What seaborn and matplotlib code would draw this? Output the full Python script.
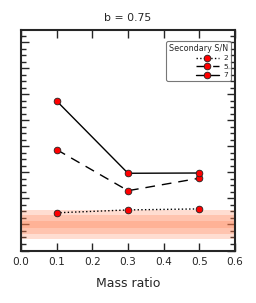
import matplotlib
matplotlib.use("Agg")
import matplotlib.pyplot as plt
import seaborn as sns
import pandas as pd
from matplotlib.ticker import MultipleLocator

mass_ratio = [0.1, 0.3, 0.5]
sn_labels = ["2", "5", "7"]
sn2 = [1.45, 1.56, 1.60]
sn5 = [3.88, 2.30, 2.78]
sn7 = [5.75, 2.97, 2.98]
band_center = 1.0
band_halfwidths = [0.55, 0.35, 0.15]

sns.set_style("ticks")
plt.rcParams['font.family'] = ['DejaVu Sans']

fig = plt.figure(figsize=(2.56, 3.03), dpi=100)
ax = fig.add_axes([21/256, 52.5/303, 214/256, 220.5/303])

for hw in band_halfwidths:
    ax.axhspan(band_center - hw, band_center + hw, color="#ff7f50", alpha=0.26, lw=0)

styles = [":", (0, (7, 5)), "-"]
for lab, vals, ls in zip(sn_labels, [sn2, sn5, sn7], styles):
    df = pd.DataFrame({"q": mass_ratio, "v": vals})
    sns.lineplot(data=df, x="q", y="v", ax=ax, color="black", lw=1.0,
                 linestyle=ls, marker="o", markersize=4.8,
                 markerfacecolor="red", markeredgecolor="#222222",
                 markeredgewidth=0.6, label=lab)

ax.set_xlim(0, 0.6)
ax.set_ylim(0, 8.48)
ax.xaxis.set_major_locator(MultipleLocator(0.1))
ax.yaxis.set_major_locator(MultipleLocator(1.0))
ax.yaxis.set_minor_locator(MultipleLocator(0.25))
ax.tick_params(axis="both", which="major", direction="in", length=6, width=1.0,
               top=True, right=True, labelsize=7.6, pad=5)
ax.tick_params(axis="y", which="minor", direction="in", length=3.5, width=1.0,
               left=True, right=True)
ax.set_yticklabels([])
for s in ax.spines.values():
    s.set_linewidth(1.5)
    s.set_visible(True)
ax.set_xlabel("Mass ratio", fontsize=9, labelpad=7)
ax.set_ylabel("")
ax.set_title("b = 0.75", fontsize=7.8, pad=6.5)

leg = ax.legend(title="Secondary S/N", loc="upper right", fontsize=5.4,
                title_fontsize=5.8, handlelength=3.0, frameon=True,
                fancybox=True, borderpad=0.35, labelspacing=0.3,
                handletextpad=0.6, borderaxespad=0.3,
                bbox_to_anchor=(0.99, 0.96))
leg.get_frame().set_edgecolor("#555555")
leg.get_frame().set_linewidth(0.8)
leg._legend_box.align = "right"

fig.savefig("out.png", dpi=100)
